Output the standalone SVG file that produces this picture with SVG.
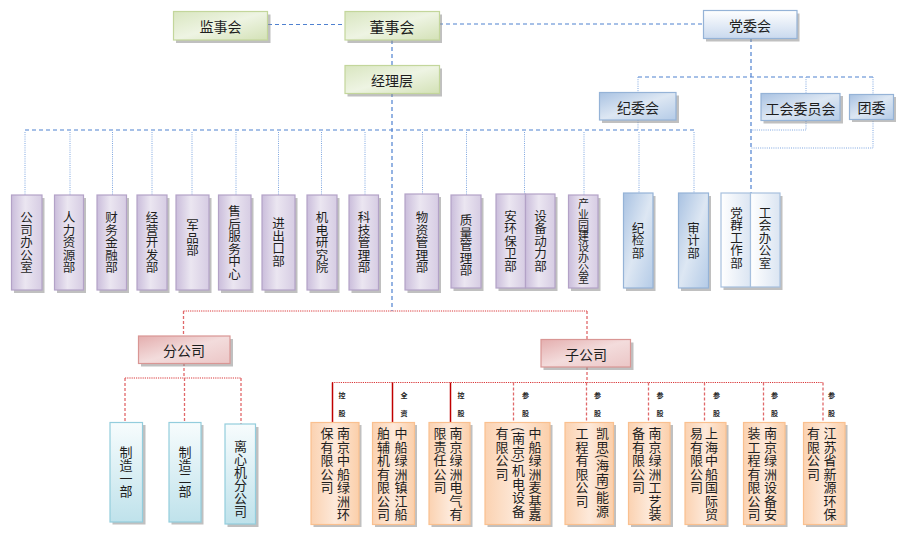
<svg xmlns="http://www.w3.org/2000/svg" width="905" height="538" viewBox="0 0 905 538">
<style>
.sh{fill:#8c8c8c;opacity:.55}
.gr{fill:url(#gGreen);stroke:#c3d69b;stroke-width:1.2}
.pu{fill:url(#gPurple);stroke:#b3a2c7;stroke-width:1.2}
.bl{fill:url(#gBlue);stroke:#95b3d7;stroke-width:1.2}
.bw{fill:url(#gBlueW);stroke:#95b3d7;stroke-width:1.2}
.bp{fill:url(#gBlueP);stroke:#a7c0de;stroke-width:1.2}
.pk{fill:url(#gPink);stroke:#d99694;stroke-width:1.2}
.cy{fill:url(#gCyan);stroke:#93cddd;stroke-width:1.2}
.or{fill:url(#gOrange);stroke:#fac08f;stroke-width:1.2}
.t{font-family:"Noto Sans CJK SC","Noto Sans",sans-serif;fill:#1e1e1e}
.h{font-size:14px;text-anchor:middle;dominant-baseline:central}
.v{writing-mode:vertical-rl;font-size:12.5px;text-anchor:middle}
.vs{writing-mode:vertical-rl;font-size:13px;letter-spacing:0.5px}
.lb{font-size:7px;text-anchor:middle;font-weight:bold}
.bd{fill:none;stroke:#4f81d0;stroke-width:1.2;stroke-dasharray:4 3}
.bo{fill:none;stroke:#7ea6e0;stroke-width:1;stroke-dasharray:1 1.2}
.ro{fill:none;stroke:#d9383a;stroke-width:1;stroke-dasharray:1.2 1}
.rd{fill:none;stroke:#e0686a;stroke-width:1.3;stroke-dasharray:3 2}
.rs{fill:none;stroke:#c00000;stroke-width:1.5}
</style>
<defs>
<linearGradient id="gGreen" x1="0" y1="0" x2="1" y2="1"><stop offset="0" stop-color="#d9e6c0"/><stop offset="0.5" stop-color="#eef4e3"/><stop offset="1" stop-color="#d3e1b6"/></linearGradient>
<linearGradient id="gPurple" x1="0" y1="0" x2="1" y2="0"><stop offset="0" stop-color="#cabddb"/><stop offset="0.45" stop-color="#ebe6f1"/><stop offset="1" stop-color="#d6cce3"/></linearGradient>
<linearGradient id="gBlue" x1="0" y1="0" x2="1" y2="1"><stop offset="0" stop-color="#a9c2e2"/><stop offset="0.5" stop-color="#dde7f3"/><stop offset="1" stop-color="#b4cbe7"/></linearGradient>
<linearGradient id="gBlueW" x1="0" y1="0" x2="0" y2="1"><stop offset="0" stop-color="#ffffff"/><stop offset="1" stop-color="#c9d9ee"/></linearGradient>
<linearGradient id="gBlueP" x1="0" y1="0" x2="1" y2="0"><stop offset="0" stop-color="#ffffff"/><stop offset="1" stop-color="#dbe5f2"/></linearGradient>
<linearGradient id="gPink" x1="0" y1="0" x2="1" y2="1"><stop offset="0" stop-color="#e4aeae"/><stop offset="0.5" stop-color="#f3dcdc"/><stop offset="1" stop-color="#ebc6c6"/></linearGradient>
<linearGradient id="gCyan" x1="0" y1="0" x2="0" y2="1"><stop offset="0" stop-color="#f7fcfd"/><stop offset="1" stop-color="#bfe2eb"/></linearGradient>
<linearGradient id="gOrange" x1="0" y1="0" x2="1" y2="0"><stop offset="0" stop-color="#fbd2b1"/><stop offset="0.5" stop-color="#fde9da"/><stop offset="1" stop-color="#fbcfaa"/></linearGradient>
</defs>
<rect width="905" height="538" fill="#ffffff"/>

<g id="connectors">
<path class="bd" d="M268,24.5H345M439,24H703M392,40V66M392,93V311M25,130H694M751,38V193M638,77H873"/>
<path class="bo" d="M25,132V195M70,132V195M112.5,132V195M152,132V195M192,132V195M236,132V195M278.5,132V195M321.5,132V195M365,132V195M422.5,132V194M466.5,132V195M524.5,132V194M584,132V195M639,132V193M694,132V193"/>
<path class="bo" d="M638,77V93M806,77V93M873,77V94M638,120V130M806,121V130H751M873,119V148H751"/>
<path class="ro" d="M183.5,311H587M125,378H241M332,382.5H823"/>
<path class="rd" d="M183.5,311V336M587,311V339M184,363V378M125,378V422M184.5,378V422M241,378V424M587,367V382.5M513.5,382.5V422M586.5,382.5V422M648.5,382.5V422M704.5,382.5V422M763.5,382.5V422M823,382.5V422"/>
<path class="rs" d="M332.5,382.5V422M392.5,382.5V422M450.5,382.5V422"/>
</g>

<g id="n-jianshihui"><rect class="sh" x="176" y="14.5" width="94.5" height="28.5"/><rect class="gr" x="173.5" y="11.5" width="94" height="28.5"/><text class="t h" x="220.5" y="26">监事会</text></g>
<g id="n-dongshihui"><rect class="sh" x="347.5" y="14.5" width="94.5" height="28.5"/><rect class="gr" x="345" y="11.5" width="94.5" height="28.5"/><text class="t h" x="392" y="26" style="font-size:15px">董事会</text></g>
<g id="n-jinglieceng"><rect class="sh" x="347.5" y="68.5" width="94.5" height="28"/><rect class="gr" x="345" y="65.5" width="94.5" height="28"/><text class="t h" x="392" y="80">经理层</text></g>
<g id="n-dangweihui"><rect class="sh" x="706" y="13.5" width="93.5" height="28"/><rect class="bw" x="703.5" y="10.5" width="93.5" height="28"/><text class="t h" x="750" y="25">党委会</text></g>
<g id="n-jiweihui"><rect class="sh" x="602" y="95.5" width="77" height="27.5"/><rect class="bl" x="599.5" y="92.5" width="76.5" height="27.5"/><text class="t h" x="638" y="107">纪委会</text></g>
<g id="n-gonghui"><rect class="sh" x="763.5" y="96" width="79.5" height="27.5"/><rect class="bl" x="761" y="93.5" width="79" height="27"/><text class="t h" x="800.5" y="107.5">工会委员会</text></g>
<g id="n-tuanwei"><rect class="sh" x="852" y="97" width="44" height="25"/><rect class="bl" x="849.5" y="94.5" width="44" height="25"/><text class="t h" x="871.5" y="107">团委</text></g>

<g id="n-d1"><rect class="sh" x="14" y="198" width="30.5" height="95"/><rect class="pu" x="11.5" y="195" width="30.5" height="95"/><text class="t v" x="26.5" y="242.5">公司办公室</text></g>
<g id="n-d2"><rect class="sh" x="57" y="198" width="29" height="95"/><rect class="pu" x="54.5" y="195" width="29" height="95"/><text class="t v" x="69" y="242.5">人力资源部</text></g>
<g id="n-d3"><rect class="sh" x="99.5" y="198" width="29.5" height="95"/><rect class="pu" x="97" y="195" width="29.5" height="95"/><text class="t v" x="111.5" y="242.5">财务金融部</text></g>
<g id="n-d4"><rect class="sh" x="139.5" y="198" width="30" height="95"/><rect class="pu" x="137" y="195" width="30" height="95"/><text class="t v" x="152" y="242.5">经营开发部</text></g>
<g id="n-d5"><rect class="sh" x="178.5" y="198" width="33" height="95"/><rect class="pu" x="176" y="195" width="33" height="95"/><text class="t v" x="192.5" y="238">军品部</text></g>
<g id="n-d6"><rect class="sh" x="221" y="198" width="32.5" height="95"/><rect class="pu" x="218.5" y="195" width="32.5" height="95"/><text class="t v" x="234.5" y="242.5">售后服务中心</text></g>
<g id="n-d7"><rect class="sh" x="264.5" y="198" width="33" height="95"/><rect class="pu" x="262" y="195" width="33" height="95"/><text class="t v" x="278.5" y="242">进出口部</text></g>
<g id="n-d8"><rect class="sh" x="309.5" y="198" width="30" height="95"/><rect class="pu" x="307" y="195" width="30" height="95"/><text class="t v" x="322" y="242.5">机电研究院</text></g>
<g id="n-d9"><rect class="sh" x="351.5" y="198" width="29.5" height="95"/><rect class="pu" x="349" y="195" width="29.5" height="95"/><text class="t v" x="364" y="242.5">科技管理部</text></g>
<g id="n-d10"><rect class="sh" x="407.5" y="197" width="33.5" height="96"/><rect class="pu" x="405" y="194" width="33.5" height="96"/><text class="t v" x="422" y="242.5">物资管理部</text></g>
<g id="n-d11"><rect class="sh" x="453.5" y="198" width="30" height="93"/><rect class="pu" x="451" y="195" width="30" height="93"/><text class="t v" x="466" y="245.5">质量管理部</text></g>
<g id="n-d12"><rect class="sh" x="498.5" y="197" width="59" height="94"/><rect class="pu" x="496" y="194" width="29.5" height="94"/><rect class="pu" x="525.5" y="194" width="29.5" height="94"/><text class="t v" x="510.5" y="241">安环保卫部</text><text class="t v" x="540.5" y="241">设备动力部</text></g>
<g id="n-d13"><rect class="sh" x="571" y="198" width="29.5" height="93"/><rect class="pu" x="568.5" y="195" width="29.5" height="93"/><text class="t v" x="583.5" y="241.5" style="font-size:11px;letter-spacing:-0.3px">产业园建设办公室</text></g>
<g id="n-d14"><rect class="sh" x="626" y="196" width="29.5" height="95"/><rect class="bl" x="623.5" y="193" width="29.5" height="95"/><text class="t v" x="638" y="240.5">纪检部</text></g>
<g id="n-d15"><rect class="sh" x="681" y="196" width="30" height="95"/><rect class="bl" x="678.5" y="193" width="30" height="95"/><text class="t v" x="693.5" y="240.5">审计部</text></g>
<g id="n-d16"><rect class="sh" x="723.5" y="196" width="59" height="94"/><rect class="bp" x="721" y="193" width="29.5" height="94"/><rect class="bp" x="750.5" y="193" width="29.5" height="94"/><text class="t v" x="736.5" y="238">党群工作部</text><text class="t v" x="765" y="238">工会办公室</text></g>

<g id="n-fengongsi"><rect class="sh" x="141" y="339" width="92" height="27.5"/><rect class="pk" x="138.5" y="336" width="91.5" height="27.5"/><text class="t h" x="184" y="350">分公司</text></g>
<g id="n-zigongsi"><rect class="sh" x="543.5" y="342.5" width="90" height="27.5"/><rect class="pk" x="541" y="339.5" width="89.5" height="27.5"/><text class="t h" x="586" y="353.5">子公司</text></g>

<g id="n-b1"><rect class="sh" x="112.5" y="425" width="33" height="99.5"/><rect class="cy" x="110" y="422.5" width="32.5" height="99.5"/><text class="t v" x="126" y="472" style="font-size:13px">制造一部</text></g>
<g id="n-b2"><rect class="sh" x="171.5" y="425" width="32" height="99.5"/><rect class="cy" x="169" y="422.5" width="32" height="99.5"/><text class="t v" x="185" y="472" style="font-size:13px">制造二部</text></g>
<g id="n-b3"><rect class="sh" x="227.5" y="427" width="31" height="100"/><rect class="cy" x="225" y="424" width="30.5" height="100"/><text class="t v" x="240.5" y="479" style="font-size:13px">离心机分公司</text></g>

<g id="labels">
<text class="t lb" x="342" y="397.5">控</text><text class="t lb" x="342" y="415.5">股</text>
<text class="t lb" x="404" y="397.5">全</text><text class="t lb" x="404" y="415.5">资</text>
<text class="t lb" x="461" y="397.5">控</text><text class="t lb" x="461" y="415.5">股</text>
<text class="t lb" x="525.5" y="397.5">参</text><text class="t lb" x="525.5" y="415.5">股</text>
<text class="t lb" x="597.5" y="397.5">参</text><text class="t lb" x="597.5" y="415.5">股</text>
<text class="t lb" x="660" y="397.5">参</text><text class="t lb" x="660" y="415.5">股</text>
<text class="t lb" x="716.5" y="397.5">参</text><text class="t lb" x="716.5" y="415.5">股</text>
<text class="t lb" x="774.5" y="397.5">参</text><text class="t lb" x="774.5" y="415.5">股</text>
<text class="t lb" x="831.5" y="397.5">参</text><text class="t lb" x="831.5" y="415.5">股</text>
</g>

<g id="n-s1"><rect class="sh" x="313.5" y="425" width="48" height="102"/><rect class="or" x="311" y="422.5" width="48" height="102"/><text class="t vs" x="343.5" y="427">南京中船绿洲环</text><text class="t vs" x="327" y="427">保有限公司</text></g>
<g id="n-s2"><rect class="sh" x="375" y="425" width="42" height="102"/><rect class="or" x="372.5" y="422.5" width="42" height="102"/><text class="t vs" x="401" y="427">中船绿洲镇江船</text><text class="t vs" x="383.5" y="427">舶辅机有限公司</text></g>
<g id="n-s3"><rect class="sh" x="431.5" y="425" width="41" height="102"/><rect class="or" x="429" y="422.5" width="41" height="102"/><text class="t vs" x="456" y="427">南京绿洲电气有</text><text class="t vs" x="440" y="427">限责任公司</text></g>
<g id="n-s4"><rect class="sh" x="487.5" y="425" width="65" height="102"/><rect class="or" x="485" y="422.5" width="65" height="102"/><text class="t vs" x="535" y="427">中船绿洲麦基嘉</text><text class="t vs" x="518.5" y="427">(南京)机电设备</text><text class="t vs" x="502" y="427">有限公司</text></g>
<g id="n-s5"><rect class="sh" x="567.5" y="425" width="48.5" height="102"/><rect class="or" x="565" y="422.5" width="48.5" height="102"/><text class="t vs" x="602.5" y="427">凯思(海南)能源</text><text class="t vs" x="582" y="427">工程有限公司</text></g>
<g id="n-s6"><rect class="sh" x="631" y="425" width="42" height="102"/><rect class="or" x="628.5" y="422.5" width="41.5" height="102"/><text class="t vs" x="655" y="427">南京绿洲工艺装</text><text class="t vs" x="638.5" y="427">备有限公司</text></g>
<g id="n-s7"><rect class="sh" x="687.5" y="425" width="41" height="102"/><rect class="or" x="685" y="422.5" width="41" height="102"/><text class="t vs" x="711.5" y="427">上海中船国际贸</text><text class="t vs" x="696.5" y="427">易有限公司</text></g>
<g id="n-s8"><rect class="sh" x="746" y="425" width="41.5" height="102"/><rect class="or" x="743.5" y="422.5" width="41.5" height="102"/><text class="t vs" x="770.5" y="427">南京绿洲设备安</text><text class="t vs" x="754" y="427">装工程有限公司</text></g>
<g id="n-s9"><rect class="sh" x="806" y="425" width="41.5" height="102"/><rect class="or" x="803.5" y="422.5" width="41.5" height="102"/><text class="t vs" x="830" y="427">江苏省新源环保</text><text class="t vs" x="813.5" y="427">有限公司</text></g>
</svg>
